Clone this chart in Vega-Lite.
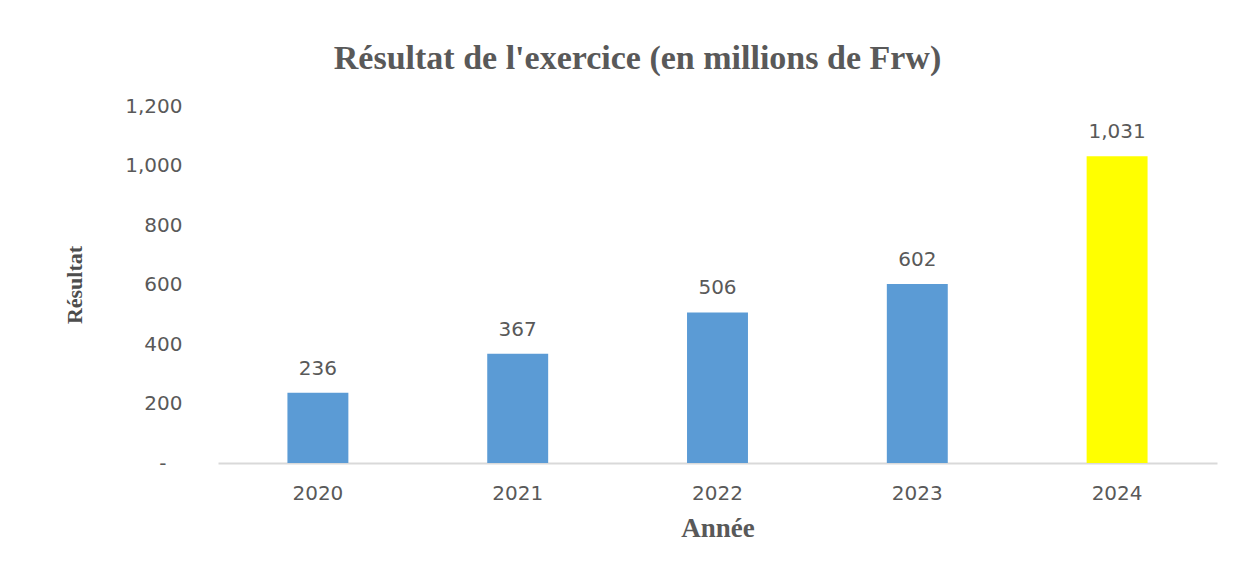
{
  "$schema": "https://vega.github.io/schema/vega-lite/v6.json",
  "width": 999,
  "height": 357,
  "autosize": {"type": "none"},
  "padding": {"left": 218, "top": 106, "right": 36, "bottom": 110},
  "background": "white",
  "title": {
    "text": "Résultat de l'exercice (en millions de Frw)",
    "font": "Liberation Serif",
    "fontSize": 34,
    "fontWeight": "bold",
    "color": "#595959",
    "anchor": "middle",
    "dx": -80,
    "offset": 20
  },
  "data": {
    "values": [
      {"annee": "2020", "resultat": 236, "groupe": "avant"},
      {"annee": "2021", "resultat": 367, "groupe": "avant"},
      {"annee": "2022", "resultat": 506, "groupe": "avant"},
      {"annee": "2023", "resultat": 602, "groupe": "avant"},
      {"annee": "2024", "resultat": 1031, "groupe": "actuel"}
    ]
  },
  "encoding": {
    "x": {
      "field": "annee",
      "type": "nominal",
      "sort": null,
      "scale": {"paddingInner": 0.695, "paddingOuter": 0.3475},
      "axis": {
        "title": "Année",
        "titleFont": "Liberation Serif",
        "titleFontSize": 27,
        "titleFontWeight": "bold",
        "titleColor": "#595959",
        "titlePadding": 12,
        "labelAngle": 0,
        "labelFont": "DejaVu Sans",
        "labelFontSize": 20,
        "labelColor": "#595959",
        "labelPadding": 20,
        "ticks": false,
        "domainColor": "#D9D9D9",
        "domainWidth": 2
      }
    },
    "y": {
      "field": "resultat",
      "type": "quantitative",
      "scale": {"domain": [0, 1200]},
      "axis": {
        "title": "Résultat",
        "titleFont": "Liberation Serif",
        "titleFontSize": 22,
        "titleFontWeight": "bold",
        "titleColor": "#4d4d4d",
        "titlePadding": 38,
        "values": [0, 200, 400, 600, 800, 1000, 1200],
        "labelExpr": "datum.value == 0 ? '-' : format(datum.value, ',')",
        "labelFont": "DejaVu Sans",
        "labelFontSize": 20,
        "labelColor": "#595959",
        "labelPadding": {"condition": {"test": "datum.value == 0", "value": 52}, "value": 36},
        "ticks": false,
        "domain": false,
        "grid": false
      }
    }
  },
  "layer": [
    {
      "mark": {"type": "bar"},
      "encoding": {
        "color": {
          "field": "groupe",
          "type": "nominal",
          "scale": {"domain": ["avant", "actuel"], "range": ["#5B9BD5", "#FFFF00"]},
          "legend": null
        }
      }
    },
    {
      "mark": {"type": "text", "baseline": "alphabetic", "dy": -18, "font": "DejaVu Sans", "fontSize": 20, "color": "#595959"},
      "encoding": {
        "text": {"field": "resultat", "type": "quantitative", "format": ","}
      }
    }
  ],
  "config": {"view": {"stroke": null}}
}
